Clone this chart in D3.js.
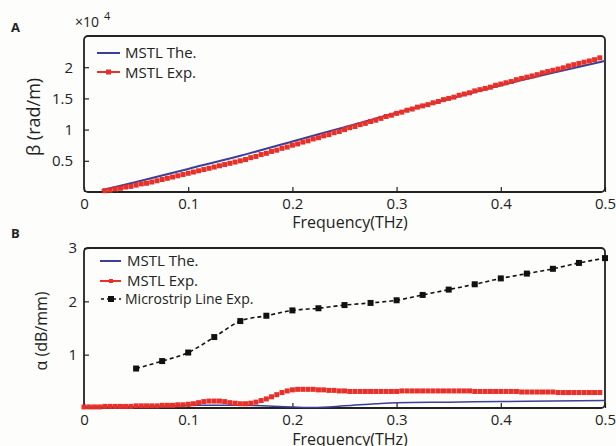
<!DOCTYPE html>
<html>
<head>
<meta charset="utf-8">
<script src="https://cdn.jsdelivr.net/npm/d3@7"></script>
<style>
  body { margin: 0; background: #fdfdfb; }
  text { font-family: "Open Sans", "DejaVu Sans", sans-serif; fill: #222; }
</style>
</head>
<body>
<div id="chart"></div>
<script>
// ---- data ----
// panel A: phase constant beta (x10^4 rad/m)
const betaTheFreq = [0.017, 0.05, 0.1, 0.15, 0.2, 0.25, 0.3, 0.35, 0.4, 0.45, 0.5];
const betaTheVals = [0.03, 0.16, 0.37, 0.58, 0.81, 1.04, 1.27, 1.49, 1.71, 1.91, 2.1];
const betaExpFreq = d3.range(96).map(i => 0.02 + i * 0.005);
const betaExpVals = [
  0.02, 0.03, 0.05, 0.06, 0.08, 0.09, 0.11, 0.13, 0.14, 0.16,
  0.18, 0.20, 0.22, 0.24, 0.26, 0.28, 0.30, 0.32, 0.34, 0.36,
  0.38, 0.40, 0.42, 0.44, 0.46, 0.48, 0.50, 0.52, 0.55, 0.57,
  0.60, 0.62, 0.65, 0.67, 0.70, 0.72, 0.75, 0.77, 0.80, 0.82,
  0.85, 0.87, 0.90, 0.92, 0.95, 0.97, 1.00, 1.03, 1.05, 1.08,
  1.10, 1.13, 1.15, 1.18, 1.21, 1.23, 1.26, 1.28, 1.31, 1.33,
  1.36, 1.38, 1.40, 1.43, 1.45, 1.48, 1.50, 1.52, 1.55, 1.57,
  1.59, 1.62, 1.64, 1.66, 1.68, 1.71, 1.73, 1.75, 1.77, 1.80,
  1.82, 1.84, 1.86, 1.88, 1.91, 1.93, 1.95, 1.97, 1.99, 2.02,
  2.04, 2.06, 2.08, 2.10, 2.12, 2.15
];

// panel B: attenuation alpha (dB/mm)
const alphaTheFreq = [0, 0.05, 0.1, 0.15, 0.2, 0.22, 0.25, 0.28, 0.3, 0.35, 0.4, 0.45, 0.5];
const alphaTheVals = [0.02, 0.03, 0.05, 0.05, 0.02, 0.01, 0.04, 0.08, 0.1, 0.11, 0.12, 0.13, 0.14];
const alphaExpFreq = d3.range(100).map(i => i * 0.005);
const alphaExpVals = [
  0.02, 0.02, 0.02, 0.02, 0.03, 0.03, 0.03, 0.03, 0.03, 0.03,
  0.04, 0.04, 0.04, 0.04, 0.04, 0.05, 0.05, 0.05, 0.06, 0.06,
  0.07, 0.08, 0.10, 0.12, 0.13, 0.13, 0.13, 0.12, 0.10, 0.09,
  0.08, 0.08, 0.09, 0.11, 0.14, 0.17, 0.21, 0.25, 0.29, 0.32,
  0.34, 0.35, 0.35, 0.35, 0.35, 0.34, 0.34, 0.33, 0.33, 0.32,
  0.32, 0.31, 0.31, 0.31, 0.31, 0.31, 0.31, 0.31, 0.31, 0.31,
  0.31, 0.32, 0.32, 0.32, 0.32, 0.32, 0.32, 0.32, 0.32, 0.32,
  0.32, 0.32, 0.32, 0.32, 0.32, 0.31, 0.31, 0.31, 0.31, 0.31,
  0.31, 0.31, 0.31, 0.31, 0.30, 0.30, 0.30, 0.30, 0.30, 0.30,
  0.30, 0.29, 0.29, 0.29, 0.29, 0.29, 0.29, 0.29, 0.29, 0.29
];
const microFreq = [0.05, 0.075, 0.1, 0.125, 0.15, 0.175, 0.2, 0.225, 0.25, 0.275,
                   0.3, 0.325, 0.35, 0.375, 0.4, 0.425, 0.45, 0.475, 0.5];
const microVals = [0.74, 0.88, 1.04, 1.33, 1.63, 1.73, 1.83, 1.87, 1.93, 1.97,
                   2.02, 2.12, 2.22, 2.32, 2.43, 2.52, 2.61, 2.72, 2.81];

const xTicks = [0, 0.1, 0.2, 0.3, 0.4, 0.5];
const betaTicks = [0.5, 1, 1.5, 2];
const alphaTicks = [1, 2, 3];

const blue = '#3b3f98', red = '#e8302a', black = '#111';

// ---- setup ----
const width = 616, height = 446;
const svg = d3.select('#chart').append('svg')
    .attr('width', width)
    .attr('height', height);

const x = d3.scaleLinear().domain([0, 0.5]).range([84, 605]);

function styleAxis(a) {
    a.select('.domain').remove();
    a.selectAll('line').attr('stroke', '#222').attr('stroke-width', 1.2);
    a.selectAll('text').attr('font-size', 15).attr('fill', '#222')
        .attr('font-family', '"Open Sans", sans-serif');
}

function frame(top, bottom, yScale, yTicks, yPad, yLabel, labelSize, labelX, xLabelY) {
    const g = svg.append('g');
    // x ticks (inward)
    g.append('g')
        .attr('transform', `translate(0,${bottom})`)
        .call(d3.axisBottom(x).tickValues(xTicks).tickSizeInner(-5).tickSizeOuter(0)
            .tickPadding(6).tickFormat(d => d === 0 ? '0' : d3.format('.1f')(d)))
        .call(styleAxis);
    // y ticks (inward)
    g.append('g')
        .attr('transform', `translate(84,0)`)
        .call(d3.axisLeft(yScale).tickValues(yTicks).tickSizeInner(-5).tickSizeOuter(0)
            .tickPadding(yPad).tickFormat(d => String(d)))
        .call(styleAxis);
    // box with rounded corners
    g.append('rect')
        .attr('x', 84).attr('y', top)
        .attr('width', 605 - 84).attr('height', bottom - top)
        .attr('rx', 4)
        .attr('fill', 'none')
        .attr('stroke', '#222')
        .attr('stroke-width', 1.8);
    g.append('text')
        .attr('x', 350).attr('y', xLabelY)
        .attr('text-anchor', 'middle')
        .attr('font-size', 16)
        .text('Frequency(THz)');
    g.append('text')
        .attr('transform', `translate(${labelX},${(top + bottom) / 2 + 3}) rotate(-90)`)
        .attr('text-anchor', 'middle')
        .attr('font-size', labelSize)
        .text(yLabel);
    return g;
}

// ---- panel A ----
const yA = d3.scaleLinear().domain([0, 2.5]).range([192, 36]);
frame(36, 192, yA, betaTicks, 11, 'β (rad/m)', 18, 40, 228);

svg.append('text').attr('x', 11).attr('y', 32)
    .attr('font-size', 13).attr('font-weight', 'bold').text('A');
svg.append('text').attr('x', 75).attr('y', 27).attr('font-size', 14)
    .text('×10')
    .append('tspan').attr('dx', 5).attr('dy', -7).attr('font-size', 11).text('4');

const plotA = svg.append('g');
plotA.append('path')
    .datum(betaTheFreq.map((f, i) => [f, betaTheVals[i]]))
    .attr('fill', 'none').attr('stroke', blue).attr('stroke-width', 2)
    .attr('d', d3.line().x(d => x(d[0])).y(d => yA(d[1])).curve(d3.curveMonotoneX));
plotA.selectAll('rect.exp')
    .data(betaExpFreq.map((f, i) => [f, betaExpVals[i]]))
    .join('rect')
    .attr('class', 'exp')
    .attr('x', d => x(d[0]) - 2.5).attr('y', d => yA(d[1]) - 2.5)
    .attr('width', 5).attr('height', 5)
    .attr('fill', red);

// legend A
const legA = svg.append('g');
legA.append('line').attr('x1', 97).attr('x2', 120).attr('y1', 53).attr('y2', 53)
    .attr('stroke', blue).attr('stroke-width', 2);
legA.append('text').attr('x', 125).attr('y', 58).attr('font-size', 15).text('MSTL The.');
legA.append('line').attr('x1', 97).attr('x2', 120).attr('y1', 72).attr('y2', 72)
    .attr('stroke', red).attr('stroke-width', 2);
legA.append('rect').attr('x', 106).attr('y', 69.5).attr('width', 5).attr('height', 5).attr('fill', red);
legA.append('text').attr('x', 125).attr('y', 78).attr('font-size', 15).text('MSTL Exp.');

// ---- panel B ----
const yB = d3.scaleLinear().domain([0, 3]).range([408, 248]);
frame(248, 408, yB, alphaTicks, 7, 'α (dB/mm)', 16, 47, 445);

svg.append('text').attr('x', 11).attr('y', 238)
    .attr('font-size', 13).attr('font-weight', 'bold').text('B');

const plotB = svg.append('g');
plotB.append('path')
    .datum(alphaTheFreq.map((f, i) => [f, alphaTheVals[i]]))
    .attr('fill', 'none').attr('stroke', blue).attr('stroke-width', 1.5)
    .attr('d', d3.line().x(d => x(d[0])).y(d => yB(d[1])).curve(d3.curveMonotoneX));
plotB.selectAll('rect.exp')
    .data(alphaExpFreq.map((f, i) => [f, alphaExpVals[i]]))
    .join('rect')
    .attr('class', 'exp')
    .attr('x', d => x(d[0]) - 2.5).attr('y', d => yB(d[1]) - 2.5)
    .attr('width', 5).attr('height', 5)
    .attr('fill', red);

const microData = microFreq.map((f, i) => [f, microVals[i]]);
plotB.append('path')
    .datum(microData)
    .attr('fill', 'none').attr('stroke', black).attr('stroke-width', 1.6)
    .attr('stroke-dasharray', '4,3')
    .attr('d', d3.line().x(d => x(d[0])).y(d => yB(d[1])).curve(d3.curveMonotoneX));
plotB.selectAll('rect.micro')
    .data(microData)
    .join('rect')
    .attr('class', 'micro')
    .attr('x', d => x(d[0]) - 3).attr('y', d => yB(d[1]) - 3)
    .attr('width', 6).attr('height', 6)
    .attr('fill', black);

// legend B
const legB = svg.append('g');
legB.append('line').attr('x1', 100).attr('x2', 121).attr('y1', 261).attr('y2', 261)
    .attr('stroke', blue).attr('stroke-width', 2);
legB.append('text').attr('x', 127).attr('y', 266).attr('font-size', 15).text('MSTL The.');
legB.append('line').attr('x1', 100).attr('x2', 121).attr('y1', 281).attr('y2', 281)
    .attr('stroke', red).attr('stroke-width', 2);
legB.append('rect').attr('x', 109).attr('y', 279).attr('width', 4).attr('height', 4).attr('fill', red);
legB.append('text').attr('x', 127).attr('y', 286).attr('font-size', 15).text('MSTL Exp.');
legB.append('line').attr('x1', 101).attr('x2', 121).attr('y1', 299).attr('y2', 299)
    .attr('stroke', black).attr('stroke-width', 1.6).attr('stroke-dasharray', '3,3');
legB.append('rect').attr('x', 108).attr('y', 296).attr('width', 6).attr('height', 6).attr('fill', black);
legB.append('text').attr('x', 125).attr('y', 304).attr('font-size', 14).text('Microstrip Line Exp.');
</script>
</body>
</html>
